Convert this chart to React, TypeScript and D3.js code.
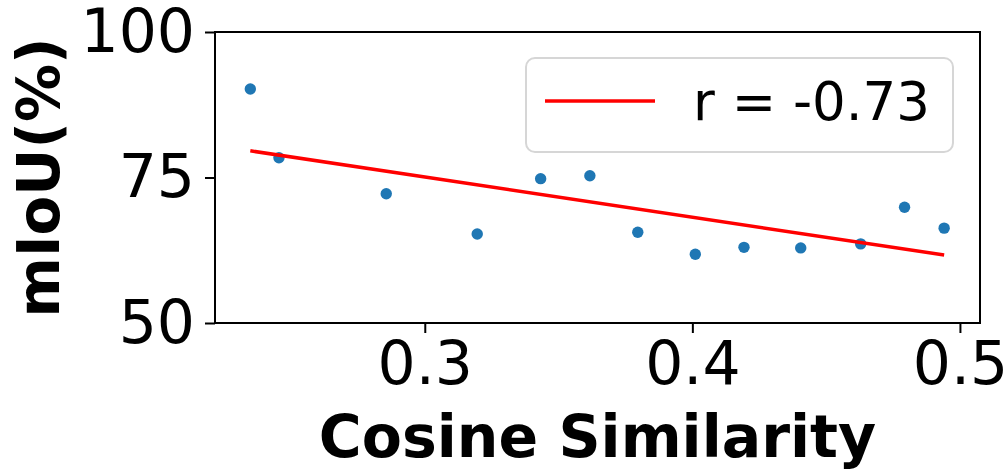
import React, { useEffect, useRef } from 'react'
import * as d3 from 'd3'

// cosine similarity vs mIoU
const cosine = [0.2348, 0.2455, 0.2856, 0.3196, 0.3433, 0.3617, 0.3796, 0.4011, 0.4193, 0.4405, 0.4629, 0.4793, 0.4941]
const miou = [90.2, 78.4, 72.2, 65.3, 74.8, 75.3, 65.6, 61.8, 63.0, 62.9, 63.6, 69.9, 66.3]
const xTicks = [0.3, 0.4, 0.5]
const yTicks = [50, 75, 100]
const legendLabel = 'r = -0.73'

export default function App() {
  const ref = useRef<SVGSVGElement>(null)

  useEffect(() => {
    const svg = d3.select(ref.current)
    svg.selectAll('*').remove()

    const margin = { top: 32, right: 28, bottom: 147, left: 215 }
    const width = 1008 - margin.left - margin.right
    const height = 470 - margin.top - margin.bottom
    const font = 'DejaVu Sans'

    const x = d3.scaleLinear().domain([0.2216, 0.5075]).range([0, width])
    const y = d3.scaleLinear().domain([50, 100]).range([height, 0])

    const g = svg.append('g')
      .attr('transform', 'translate(' + margin.left + ',' + margin.top + ')')

    // least squares fit
    const mx = d3.mean(cosine) as number
    const my = d3.mean(miou) as number
    let sxy = 0, sxx = 0
    cosine.forEach((c, i) => {
      sxy += (c - mx) * (miou[i] - my)
      sxx += (c - mx) * (c - mx)
    })
    const slope = sxy / sxx
    const icpt = my - slope * mx
    const x0 = d3.min(cosine) as number
    const x1 = d3.max(cosine) as number

    g.selectAll('.dot')
      .data(cosine)
      .enter().append('circle')
      .attr('class', 'dot')
      .attr('cx', d => x(d))
      .attr('cy', (d, i) => y(miou[i]))
      .attr('r', 5.7)
      .attr('fill', '#1f77b4')

    const line = d3.line<number>().x(d => x(d)).y(d => y(icpt + slope * d))
    g.append('path')
      .attr('d', line([x0, x1]))
      .attr('fill', 'none')
      .attr('stroke', '#ff0000')
      .attr('stroke-width', 3.5)

    // axes
    const xAxis = g.append('g')
      .attr('transform', 'translate(0,' + height + ')')
      .call(d3.axisBottom(x).tickValues(xTicks).tickSize(10).tickPadding(8).tickFormat(d3.format('.1f')))
    const yAxis = g.append('g')
      .call(d3.axisLeft(y).tickValues(yTicks).tickSize(10).tickPadding(10))
    ;[xAxis, yAxis].forEach(a => {
      a.select('.domain').remove()
      a.selectAll('line').attr('stroke', '#000').attr('stroke-width', 2)
      a.selectAll('text').attr('font-family', font).attr('font-size', 60).attr('fill', '#000')
    })

    g.append('rect')
      .attr('width', width).attr('height', height)
      .attr('fill', 'none').attr('stroke', '#000').attr('stroke-width', 2)

    // legend
    const lg = g.append('g').attr('transform', 'translate(' + (526 - margin.left) + ',' + (58 - margin.top) + ')')
    lg.append('rect')
      .attr('width', 427).attr('height', 94).attr('rx', 9)
      .attr('fill', '#fff').attr('stroke', '#d6d6d6').attr('stroke-width', 2)
    lg.append('line')
      .attr('x1', 19).attr('x2', 129).attr('y1', 43).attr('y2', 43)
      .attr('stroke', '#ff0000').attr('stroke-width', 3.5)
    lg.append('text')
      .attr('x', 167).attr('y', 62)
      .attr('font-family', font).attr('font-size', 53)
      .text(legendLabel)

    svg.append('text')
      .attr('x', margin.left + width / 2).attr('y', 457)
      .attr('text-anchor', 'middle')
      .attr('font-family', font).attr('font-weight', 'bold').attr('font-size', 58.5)
      .text('Cosine Similarity')
    svg.append('text')
      .attr('transform', 'translate(59,' + (margin.top + height / 2) + ') rotate(-90)')
      .attr('text-anchor', 'middle')
      .attr('font-family', font).attr('font-weight', 'bold').attr('font-size', 58)
      .text('mIoU(%)')
  }, [])

  return (
    <svg ref={ref} width={1008} height={470}
      style={{ position: 'absolute', left: 0, top: 0, background: '#fff' }} />
  )
}
